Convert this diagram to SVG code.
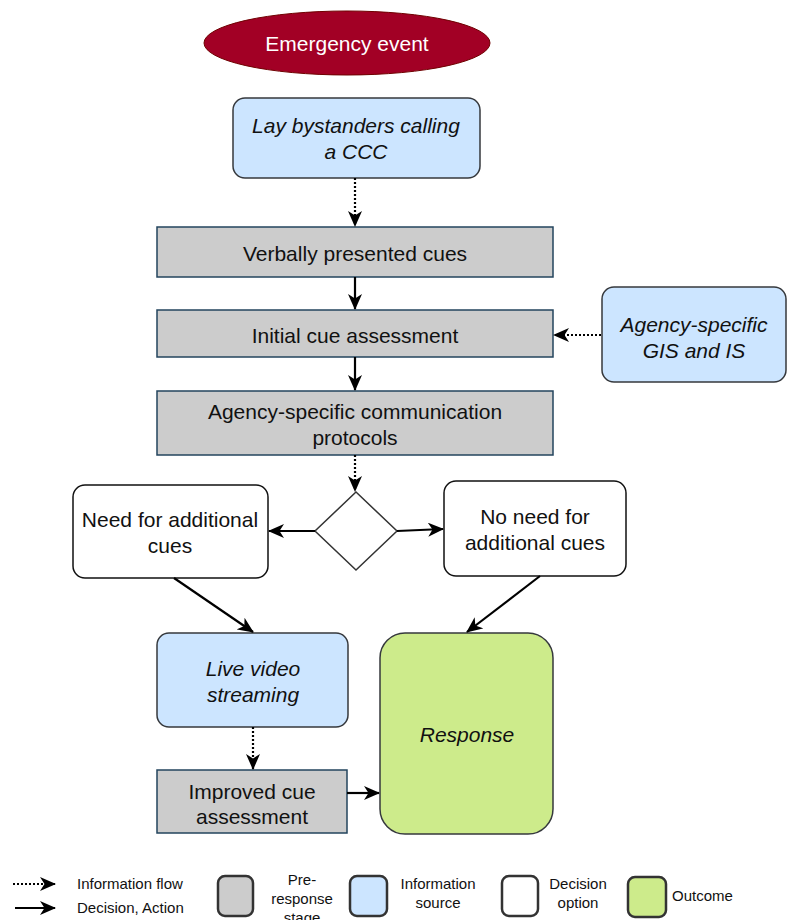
<svg xmlns="http://www.w3.org/2000/svg" width="787" height="920" viewBox="0 0 787 920">
<defs>
<marker id="arr" viewBox="0 0 16 14" refX="15" refY="7" markerWidth="16" markerHeight="14" orient="auto" markerUnits="userSpaceOnUse">
<path d="M0,0 L16,7 L0,14 L4.5,7 Z" fill="#000"/>
</marker>
<style>
text{font-family:"Liberation Sans",Arial,sans-serif;fill:#111;}
.t{font-size:21px;text-anchor:middle;}
.it{font-style:italic;}
.lg{font-size:15px;}
.lc{text-anchor:middle;}
.gray{fill:#cccccc;stroke:#23445d;stroke-width:1.5;}
.blue{fill:#cce5ff;stroke:#36393d;stroke-width:1.5;}
.white{fill:#ffffff;stroke:#111;stroke-width:1.5;}
.green{fill:#cdeb8b;stroke:#36393d;stroke-width:1.5;}
.solid{fill:none;stroke:#000;stroke-width:2.2;marker-end:url(#arr);}
.dot{fill:none;stroke:#000;stroke-width:2.2;stroke-dasharray:2 2;marker-end:url(#arr);}
.lsq{stroke:#333;stroke-width:2.5;}
</style>
</defs>
<rect width="787" height="920" fill="#fff"/>

<g id="emergency">
<ellipse cx="347" cy="43" rx="143" ry="32" fill="#a20025" stroke="#6f0000" stroke-width="1"/>
<text class="t" x="347" y="51" style="fill:#fff">Emergency event</text>
</g>
<g id="lay">
<rect class="blue" x="233" y="98" width="247" height="80" rx="12"/>
<text class="t it" x="356" y="133">Lay bystanders calling</text>
<text class="t it" x="356" y="159">a CCC</text>
</g>
<g id="verbally">
<rect class="gray" x="157" y="227" width="396" height="50"/>
<text class="t" x="355" y="261">Verbally presented cues</text>
</g>
<g id="initial">
<rect class="gray" x="157" y="310" width="396" height="47"/>
<text class="t" x="355" y="343">Initial cue assessment</text>
</g>
<g id="protocols">
<rect class="gray" x="157" y="391" width="396" height="64"/>
<text class="t" x="355" y="419">Agency-specific communication</text>
<text class="t" x="355" y="445">protocols</text>
</g>
<g id="gis">
<rect class="blue" x="602" y="287" width="184" height="95" rx="12"/>
<text class="t it" x="694" y="332">Agency-specific</text>
<text class="t it" x="694" y="358">GIS and IS</text>
</g>
<g id="decision">
<polygon points="356,492 397,531 356,570 315,531" fill="#fff" stroke="#333" stroke-width="1.5"/>
</g>
<g id="need">
<rect class="white" x="73" y="485" width="195" height="93" rx="12"/>
<text class="t" x="170" y="527">Need for additional</text>
<text class="t" x="170" y="553">cues</text>
</g>
<g id="noneed">
<rect class="white" x="444" y="481" width="182" height="95" rx="12"/>
<text class="t" x="535" y="524">No need for</text>
<text class="t" x="535" y="550">additional cues</text>
</g>
<g id="live">
<rect class="blue" x="157" y="633" width="191" height="94" rx="12"/>
<text class="t it" x="253" y="676">Live video</text>
<text class="t it" x="253" y="702">streaming</text>
</g>
<g id="improved">
<rect class="gray" x="157" y="770" width="190" height="63"/>
<text class="t" x="252" y="799">Improved cue</text>
<text class="t" x="252" y="824">assessment</text>
</g>
<g id="response">
<rect class="green" x="380" y="633" width="173" height="201" rx="25"/>
<text class="t it" x="467" y="742">Response</text>
</g>

<g id="connectors">
<line class="dot" x1="355" y1="178" x2="355" y2="226"/>
<line class="solid" x1="355" y1="277" x2="355" y2="309"/>
<line class="solid" x1="355" y1="357" x2="355" y2="390"/>
<line class="dot" x1="601" y1="335" x2="554" y2="335"/>
<line class="dot" x1="355" y1="455" x2="355" y2="491"/>
<line class="solid" x1="315" y1="531" x2="269" y2="531"/>
<line class="solid" x1="397" y1="531" x2="443" y2="529"/>
<line class="solid" x1="174" y1="578" x2="253" y2="632"/>
<line class="solid" x1="540" y1="576" x2="467" y2="632"/>
<line class="dot" x1="253" y1="727" x2="253" y2="769"/>
<line class="solid" x1="347" y1="793" x2="379" y2="793"/>
</g>

<g id="legend">
<line class="dot" x1="13" y1="884" x2="55" y2="884"/>
<line class="solid" x1="15" y1="908" x2="55" y2="908"/>
<text class="lg" x="77" y="889">Information flow</text>
<text class="lg" x="77" y="913">Decision, Action</text>
<rect class="lsq" x="218" y="876" width="35" height="40" rx="7" fill="#cccccc"/>
<text class="lg lc" x="302" y="885">Pre-</text>
<text class="lg lc" x="302" y="904">response</text>
<text class="lg lc" x="302" y="923">stage</text>
<rect class="lsq" x="350" y="876" width="37" height="40" rx="7" fill="#cce5ff"/>
<text class="lg lc" x="438" y="889">Information</text>
<text class="lg lc" x="438" y="908">source</text>
<rect class="lsq" x="502" y="876" width="36" height="40" rx="7" fill="#ffffff"/>
<text class="lg lc" x="578" y="889">Decision</text>
<text class="lg lc" x="578" y="908">option</text>
<rect class="lsq" x="628" y="877" width="38" height="40" rx="7" fill="#cdeb8b"/>
<text class="lg" x="672" y="901">Outcome</text>
</g>
</svg>
